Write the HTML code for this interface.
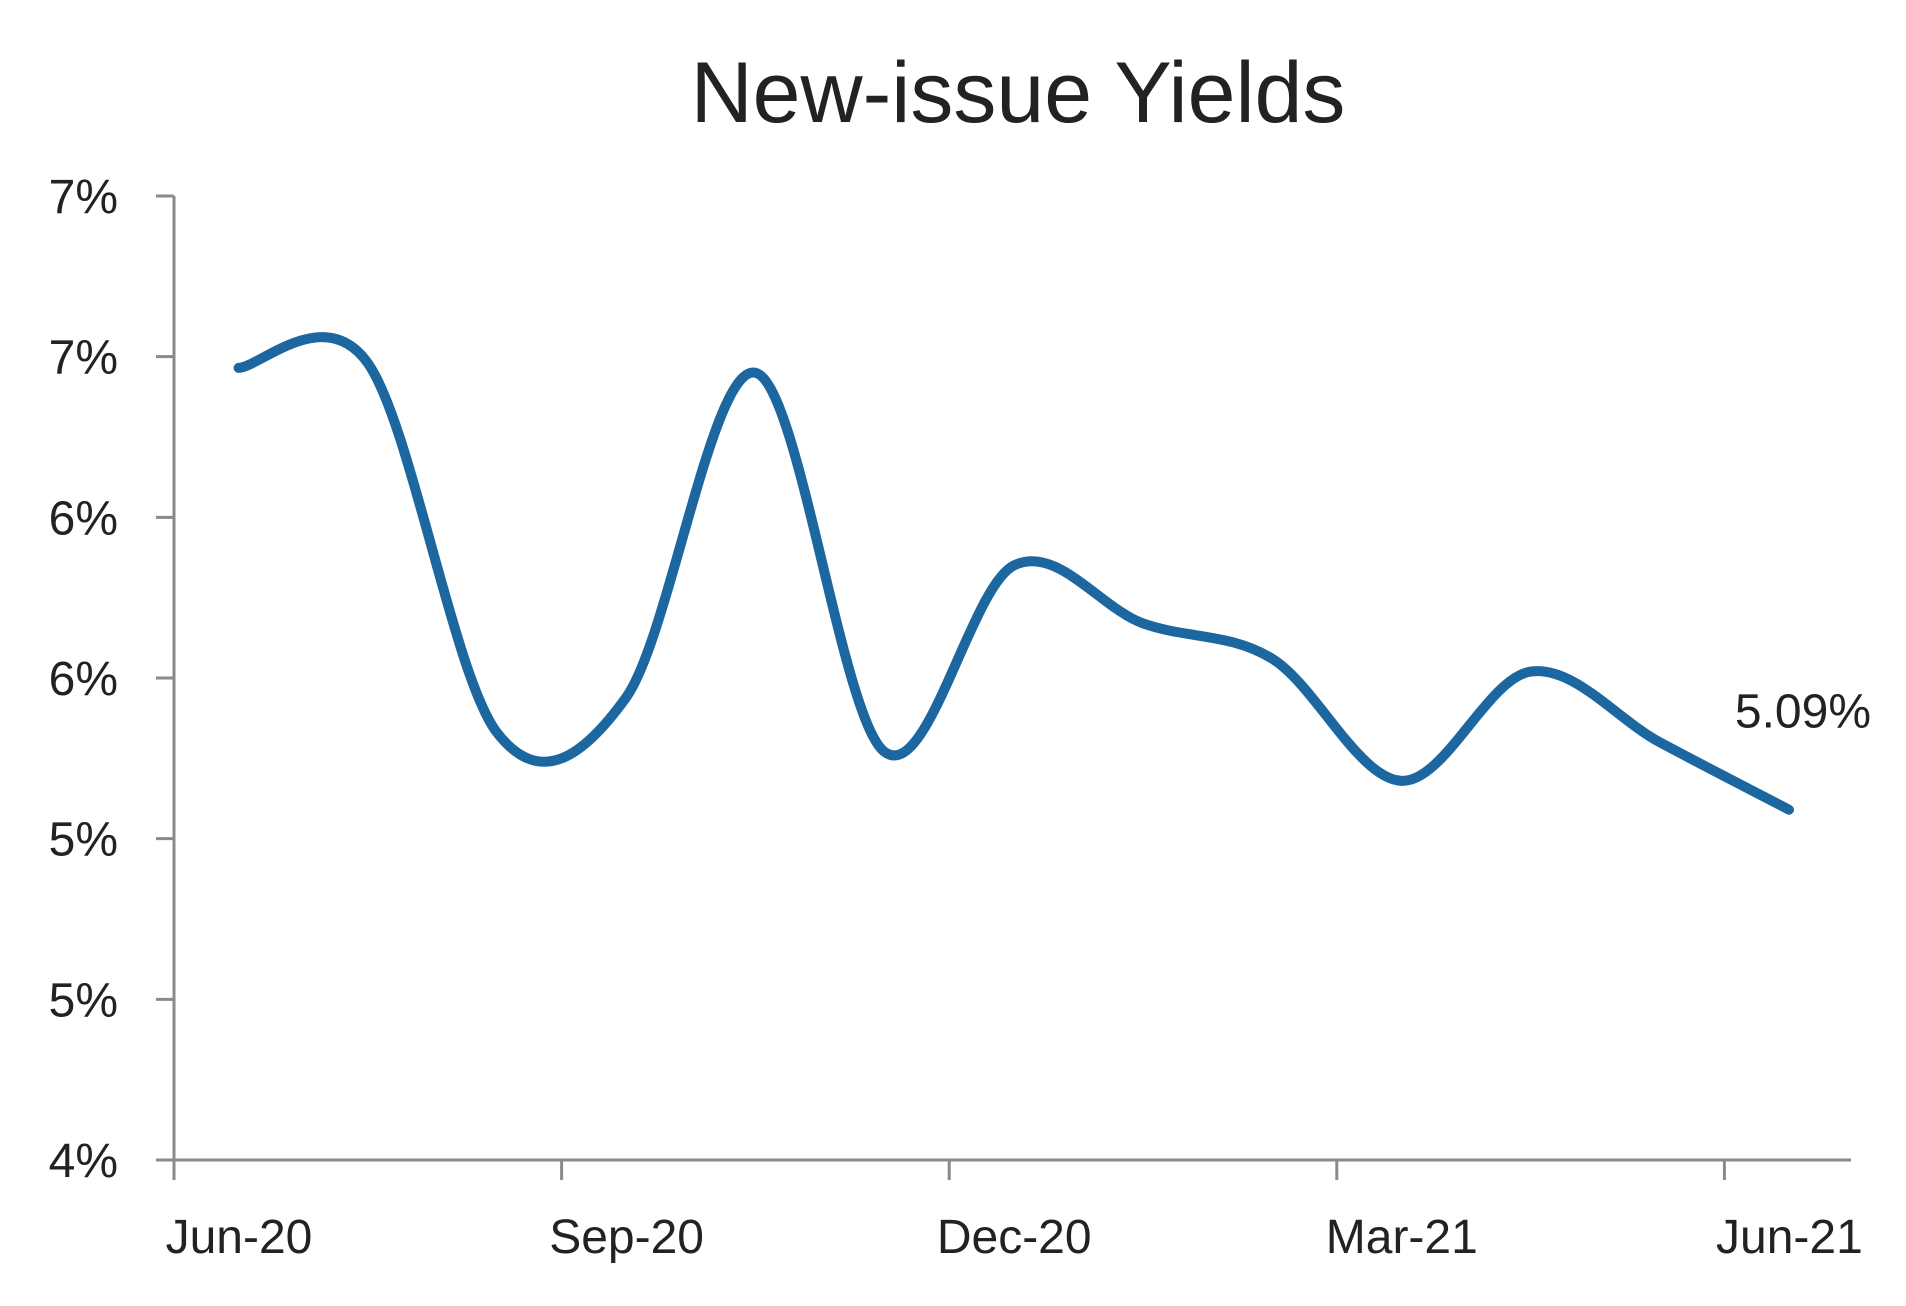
<!DOCTYPE html>
<html><head><meta charset="utf-8"><style>
html,body{margin:0;padding:0;background:#fff;}
svg{display:block;font-family:"Liberation Sans",sans-serif;}
</style></head><body>
<svg id="chart" width="1906" height="1306" viewBox="0 0 1906 1306">
<text x="1018" y="122" text-anchor="middle" font-size="86" fill="#222">New-issue Yields</text>
<g id="axes"></g>
<g id="series"></g>
</svg>
<script>
const yTicks = [4, 4.5, 5, 5.5, 6, 6.5, 7];
const yTickLabels = ["4%", "5%", "5%", "6%", "6%", "7%", "7%"];
const xTickLabels = ["Jun-20", "Sep-20", "Dec-20", "Mar-21", "Jun-21"];
const xTickMonths = [0, 3, 6, 9, 12];
const months = [0.5, 1.5, 2.5, 3.5, 4.5, 5.5, 6.5, 7.5, 8.5, 9.5, 10.5, 11.5, 12.5];
const yields = [6.465, 6.48, 5.33, 5.44, 6.45, 5.27, 5.85, 5.67, 5.56, 5.18, 5.52, 5.30, 5.09];
const lastLabel = "5.09%";

const NS = "http://www.w3.org/2000/svg";
const x0 = 174, monthW = 129.2, axisEnd = 1851;
const yBottom = 1160, yTop = 196, vMin = 4, vMax = 7;
const xs = m => x0 + m * monthW;
const ys = v => yBottom - (v - vMin) / (vMax - vMin) * (yBottom - yTop);
const axes = document.getElementById('axes');
const series = document.getElementById('series');
function mk(tag, attrs, parent) {
  const e = document.createElementNS(NS, tag);
  for (const k in attrs) e.setAttribute(k, attrs[k]);
  parent.appendChild(e);
  return e;
}
let ax = mk('line', {x1: x0, y1: yTop, x2: x0, y2: yBottom + 20, stroke: '#8a8a8a', 'stroke-width': 3}, axes);


let bx = mk('line', {x1: x0 - 18, y1: yBottom, x2: axisEnd, y2: yBottom, stroke: '#8a8a8a', 'stroke-width': 3}, axes);


yTicks.forEach((v, i) => {
  const t = mk('line', {x1: x0 - 18, y1: ys(v), x2: x0, y2: ys(v), stroke: '#8a8a8a', 'stroke-width': 3}, axes);
  
  
  const l = mk('text', {x: 118, y: ys(v) + 17, 'text-anchor': 'end', 'font-size': 48, fill: '#222'}, axes);
  l.textContent = yTickLabels[i];
  
  
});
xTickMonths.forEach((m, i) => {
  const t = mk('line', {x1: xs(m), y1: yBottom, x2: xs(m), y2: yBottom + 20, stroke: '#8a8a8a', 'stroke-width': 3}, axes);
  
  
  const l = mk('text', {x: xs(m) + 65, y: 1253, 'text-anchor': 'middle', 'font-size': 48, fill: '#222'}, axes);
  l.textContent = xTickLabels[i];
  
  
});
const pts = months.map((m, i) => [xs(m), ys(yields[i])]);
let d = 'M' + pts[0][0] + ',' + pts[0][1];
for (let i = 0; i < pts.length - 1; i++) {
  const p0 = pts[Math.max(0, i - 1)], p1 = pts[i], p2 = pts[i + 1], p3 = pts[Math.min(pts.length - 1, i + 2)];
  const c1 = [p1[0] + (p2[0] - p0[0]) / 6, p1[1] + (p2[1] - p0[1]) / 6];
  const c2 = [p2[0] - (p3[0] - p1[0]) / 6, p2[1] - (p3[1] - p1[1]) / 6];
  d += ' C' + c1.join(',') + ' ' + c2.join(',') + ' ' + p2.join(',');
}
const path = mk('path', {d: d, fill: 'none', stroke: '#1d67a0', 'stroke-width': 10, 'stroke-linecap': 'round', 'stroke-linejoin': 'round'}, series);


const last = pts[pts.length - 1];
const lbl = mk('text', {x: last[0] + 82, y: last[1] - 82, 'text-anchor': 'end', 'font-size': 48, fill: '#222'}, series);
lbl.textContent = lastLabel;


</script>
</body></html>
